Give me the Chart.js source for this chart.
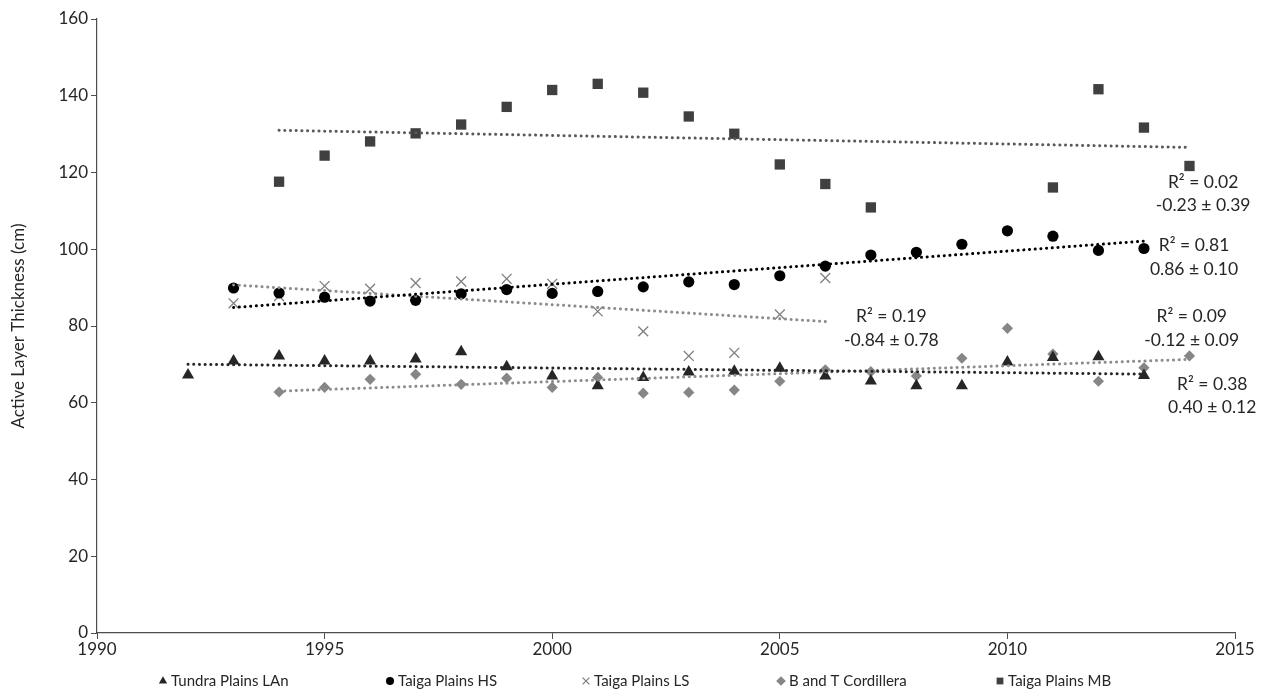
<!DOCTYPE html>
<html>
<head>
<meta charset="utf-8">
<script src="https://cdn.jsdelivr.net/npm/chart.js@4.4.0/dist/chart.umd.min.js"></script>
<style>
  html, body { margin: 0; padding: 0; background: #fff; }
  #wrap { width: 1270px; height: 700px; }
</style>
</head>
<body>
<div id="wrap"><canvas id="altChart"></canvas></div>
<script>
// active layer thickness (cm) per site
const tundraYears = [1992, 1993, 1994, 1995, 1996, 1997, 1998, 1999, 2000, 2001, 2002,
  2003, 2004, 2005, 2006, 2007, 2008, 2009, 2010, 2011, 2012, 2013];
const tundraValues = [67.2, 70.9, 72.2, 70.9, 70.9, 71.4, 73.3, 69.4, 67.0, 64.4, 66.6,
  68.0, 68.2, 69.0, 67.0, 65.7, 64.4, 64.4, 70.6, 71.8, 72.0, 67.1];

const hsYears = [1993, 1994, 1995, 1996, 1997, 1998, 1999, 2000, 2001, 2002, 2003,
  2004, 2005, 2006, 2007, 2008, 2009, 2010, 2011, 2012, 2013];
const hsValues = [89.9, 88.6, 87.5, 86.5, 86.7, 88.4, 89.5, 88.5, 89.0, 90.2, 91.5,
  90.8, 93.1, 95.6, 98.5, 99.2, 101.3, 104.8, 103.4, 99.7, 100.2];

const lsYears = [1993, 1994, 1995, 1996, 1997, 1998, 1999, 2000, 2001, 2002, 2003,
  2004, 2005, 2006];
const lsValues = [85.9, 87.8, 90.4, 89.7, 91.2, 91.6, 92.3, 91.0, 83.8, 78.6, 72.2,
  73.0, 83.0, 92.5];

const cordYears = [1994, 1995, 1996, 1997, 1998, 1999, 2000, 2001, 2002, 2003, 2004,
  2005, 2006, 2007, 2008, 2009, 2010, 2011, 2012, 2013, 2014];
const cordValues = [62.8, 64.0, 66.1, 67.4, 64.8, 66.4, 64.0, 66.6, 62.5, 62.7, 63.3,
  65.6, 68.6, 68.1, 67.0, 71.6, 79.4, 72.7, 65.6, 69.1, 72.2];

const mbYears = [1994, 1995, 1996, 1997, 1998, 1999, 2000, 2001, 2002, 2003, 2004,
  2005, 2006, 2007, 2011, 2012, 2013, 2014];
const mbValues = [117.6, 124.4, 128.1, 130.2, 132.5, 137.1, 141.5, 143.1, 140.8, 134.6, 130.1,
  122.1, 117.0, 110.9, 116.1, 141.7, 131.7, 121.7];

const xTicks = [1990, 1995, 2000, 2005, 2010, 2015];
const yTicks = [0, 20, 40, 60, 80, 100, 120, 140, 160];

// trend line stats printed on the chart: [r2 text, slope text]
const mbStats = ['R\u00B2 = 0.02', '-0.23 \u00B1 0.39'];
const hsStats = ['R\u00B2 = 0.81', '0.86 \u00B1 0.10'];
const lsStats = ['R\u00B2 = 0.19', '-0.84 \u00B1 0.78'];
const tundraStats = ['R\u00B2 = 0.09', '-0.12 \u00B1 0.09'];
const cordStats = ['R\u00B2 = 0.38', '0.40 \u00B1 0.12'];

const FONT = 'Lato, "Open Sans", sans-serif';

function pts(xs, ys) {
  return xs.map((x, i) => ({ x: x, y: ys[i] }));
}

// least squares fit, returns the two end points of the line
function trend(xs, ys) {
  const n = xs.length;
  const mx = xs.reduce((a, b) => a + b, 0) / n;
  const my = ys.reduce((a, b) => a + b, 0) / n;
  let sxy = 0, sxx = 0;
  xs.forEach((x, i) => {
    sxy += (x - mx) * (ys[i] - my);
    sxx += (x - mx) * (x - mx);
  });
  const b = sxy / sxx;
  const x0 = Math.min(...xs), x1 = Math.max(...xs);
  return [{ x: x0, y: my + b * (x0 - mx) }, { x: x1, y: my + b * (x1 - mx) }];
}

function trendSet(xs, ys, color) {
  return {
    type: 'line',
    label: '',
    data: trend(xs, ys),
    borderColor: color,
    borderWidth: 3,
    borderDash: [0.1, 5.6],
    borderCapStyle: 'round',
    pointRadius: 0,
    fill: false,
    order: 0,
  };
}

// stat labels, anchored in data units: [x, y, lines]
const statLabels = [
  [2014.3, 117.5, mbStats],
  [2014.1, 101.0, hsStats],
  [2007.45, 82.4, lsStats],
  [2014.05, 82.4, tundraStats],
  [2014.5, 64.8, cordStats],
];

const statPlugin = {
  id: 'stats',
  afterDatasetsDraw(chart) {
    const { ctx, scales } = chart;
    ctx.save();
    ctx.font = '17.5px ' + FONT;
    ctx.fillStyle = '#262626';
    ctx.textAlign = 'center';
    ctx.textBaseline = 'middle';
    statLabels.forEach(([x, y, lines]) => {
      const px = scales.x.getPixelForValue(x);
      const py = scales.y.getPixelForValue(y);
      lines.forEach((t, i) => ctx.fillText(t, px, py + i * 23.5));
    });
    ctx.restore();
  },
};

// legend row under the axis, marker x for each of the five series
const legendX = [163, 390, 586, 781, 1000];

const legendPlugin = {
  id: 'rowLegend',
  afterDraw(chart) {
    const { ctx } = chart;
    const y = 681;
    ctx.save();
    ctx.font = '15px ' + FONT;
    ctx.textBaseline = 'middle';
    ctx.textAlign = 'left';
    chart.data.datasets.slice(0, 5).forEach((ds, i) => {
      const x = legendX[i];
      ctx.fillStyle = ds.backgroundColor;
      ctx.strokeStyle = ds.borderColor;
      ctx.lineWidth = ds.borderWidth;
      Chart.helpers.drawPoint(ctx, {
        pointStyle: ds.pointStyle,
        radius: ds.pointStyle === 'circle' ? 4 : 4.8,
        borderWidth: ds.borderWidth,
        rotation: 0,
      }, x, y);
      ctx.fillStyle = '#262626';
      ctx.fillText(ds.label, x + 8, y);
    });
    ctx.restore();
  },
};

new Chart(document.getElementById('altChart'), {
  type: 'scatter',
  data: {
    datasets: [
      {
        label: 'Tundra Plains LAn',
        data: pts(tundraYears, tundraValues),
        pointStyle: 'triangle',
        pointRadius: 7,
        backgroundColor: '#262626',
        borderColor: '#262626',
        borderWidth: 0,
        order: 1,
      },
      {
        label: 'Taiga Plains HS',
        data: pts(hsYears, hsValues),
        pointStyle: 'circle',
        pointRadius: 5.6,
        backgroundColor: '#000000',
        borderColor: '#000000',
        borderWidth: 0,
        order: 1,
      },
      {
        label: 'Taiga Plains LS',
        data: pts(lsYears, lsValues),
        pointStyle: 'crossRot',
        pointRadius: 7,
        backgroundColor: '#7f7f7f',
        borderColor: '#7f7f7f',
        borderWidth: 1.3,
        order: 1,
      },
      {
        label: 'B and T Cordillera',
        data: pts(cordYears, cordValues),
        pointStyle: 'rectRot',
        pointRadius: 5.6,
        backgroundColor: '#868686',
        borderColor: '#868686',
        borderWidth: 0,
        order: 1,
      },
      {
        label: 'Taiga Plains MB',
        data: pts(mbYears, mbValues),
        pointStyle: 'rect',
        pointRadius: 7.3,
        backgroundColor: '#404040',
        borderColor: '#404040',
        borderWidth: 0,
        order: 1,
      },
      trendSet(mbYears, mbValues, '#595959'),
      trendSet(hsYears, hsValues, '#000000'),
      trendSet(lsYears, lsValues, '#8c8c8c'),
      trendSet(tundraYears, tundraValues, '#262626'),
      trendSet(cordYears, cordValues, '#8c8c8c'),
    ],
  },
  options: {
    responsive: true,
    maintainAspectRatio: false,
    animation: false,
    layout: { padding: { left: 8, right: 35, top: 19, bottom: 39 } },
    plugins: {
      tooltip: { enabled: false },
      legend: { display: false },
    },
    scales: {
      x: {
        type: 'linear',
        min: 1990,
        max: 2015,
        afterBuildTicks: s => { s.ticks = xTicks.map(v => ({ value: v })); },
        afterFit: s => { s.height = 28; },
        grid: { drawOnChartArea: false, tickLength: 6, color: '#4d4d4d' },
        border: { color: '#4d4d4d', width: 1.2 },
        ticks: {
          color: '#262626',
          font: { family: FONT, size: 17 },
          padding: 0,
          callback: v => String(v),
        },
      },
      y: {
        min: 0,
        max: 160,
        afterBuildTicks: s => { s.ticks = yTicks.map(v => ({ value: v })); },
        afterFit: s => { s.width = 89; },
        grid: { drawOnChartArea: false, tickLength: 6, color: '#4d4d4d' },
        border: { color: '#4d4d4d', width: 1.2 },
        ticks: { color: '#262626', font: { family: FONT, size: 17 }, padding: 3 },
        title: {
          display: true,
          text: 'Active Layer Thickness (cm)',
          color: '#262626',
          font: { family: FONT, size: 17 },
          padding: 0,
        },
      },
    },
  },
  plugins: [statPlugin, legendPlugin],
});
</script>
</body>
</html>
